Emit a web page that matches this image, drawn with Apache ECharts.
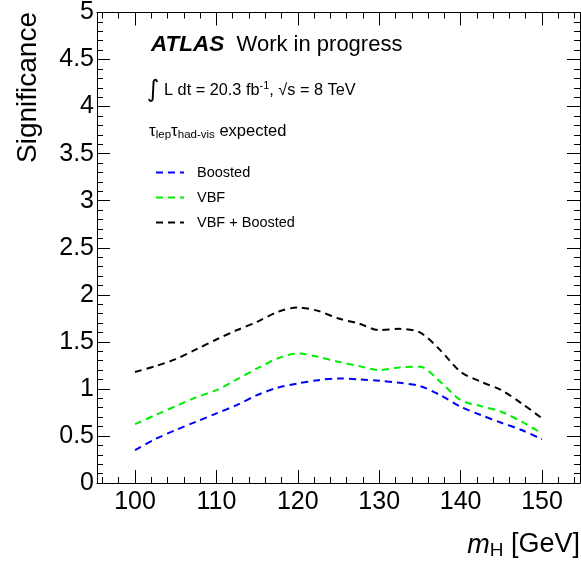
<!DOCTYPE html>
<html>
<head>
<meta charset="utf-8">
<script src="https://cdn.jsdelivr.net/npm/echarts@6/dist/echarts.min.js"></script>
<style>
html, body { margin: 0; padding: 0; background: #fff; }
#chart { width: 581px; height: 571px; }
</style>
</head>
<body>
<div id="chart"></div>
<script>
// mass points (GeV)
const massPoints = [100, 102.5, 105, 107.5, 110, 112.5, 115, 117.5, 120, 122.5, 125,
    127.5, 130, 132.5, 135, 137.5, 140, 142.5, 145, 147.5, 150];
// expected significance
const boosted = [0.35, 0.467, 0.563, 0.651, 0.74, 0.828, 0.934, 1.012, 1.058, 1.093, 1.111,
    1.1, 1.086, 1.065, 1.03, 0.934, 0.81, 0.722, 0.64, 0.563, 0.464];
const vbf = [0.626, 0.722, 0.817, 0.91, 0.987, 1.1, 1.217, 1.323, 1.377, 1.341, 1.288,
    1.242, 1.2, 1.228, 1.235, 1.076, 0.881, 0.817, 0.757, 0.651, 0.527];
const combined = [1.18, 1.242, 1.316, 1.419, 1.525, 1.624, 1.712, 1.818, 1.865, 1.829, 1.748,
    1.695, 1.624, 1.638, 1.6, 1.412, 1.182, 1.076, 0.987, 0.846, 0.687];

const seriesNames = ['Boosted', 'VBF', 'VBF + Boosted'];
const seriesColors = ['#0000ff', '#00ee00', '#000000'];

const xMajor = [100, 110, 120, 130, 140, 150];
const xMinor = [96, 98, 102, 104, 106, 108, 112, 114, 116, 118, 122, 124, 126, 128,
    132, 134, 136, 138, 142, 144, 146, 148, 152, 154];

const font = 'Liberation Sans, Arial, Helvetica, sans-serif';
const xMin = 95.33, xMax = 154.67;

function pairs(ys) {
    return massPoints.map(function (m, i) { return [m, ys[i]]; });
}

function xAxisOf(position, ticks, len, showLine, showLabel) {
    return {
        type: 'value', position: position, min: xMin, max: xMax,
        axisLine: { show: showLine, onZero: false, lineStyle: { color: '#000', width: 1 } },
        axisTick: { show: true, inside: true, length: len, customValues: ticks,
            lineStyle: { color: '#000', width: 1 } },
        axisLabel: { show: showLabel, customValues: ticks, margin: 7,
            color: '#000', fontFamily: font, fontSize: 25 },
        splitLine: { show: false }
    };
}

function yAxisOf(position, showLabel) {
    return {
        type: 'value', position: position, min: 0, max: 5, interval: 0.5,
        axisLine: { show: true, onZero: false, lineStyle: { color: '#000', width: 1 } },
        axisTick: { show: true, inside: true, length: 13, lineStyle: { color: '#000' } },
        minorTick: { show: true, splitNumber: 5, length: 6, lineStyle: { color: '#000' } },
        axisLabel: { show: showLabel, margin: 3, color: '#000', fontFamily: font, fontSize: 25 },
        splitLine: { show: false }
    };
}

const data = [boosted, vbf, combined];
const series = data.map(function (ys, i) {
    return {
        name: seriesNames[i], type: 'line', data: pairs(ys),
        xAxisIndex: 0, yAxisIndex: 0,
        smooth: 0.3, symbol: 'none',
        lineStyle: { color: seriesColors[i], width: 2, type: [7, 5] },
        itemStyle: { color: seriesColors[i] }
    };
});

const myChart = echarts.init(document.getElementById('chart'));
const option = {
    animation: false,
    backgroundColor: '#fff',
    grid: { left: 97, right: 1, top: 12, bottom: 88 },
    xAxis: [
        xAxisOf('bottom', xMajor, 13, true, true),
        xAxisOf('bottom', xMinor, 6, false, false),
        xAxisOf('top', xMajor, 13, true, false),
        xAxisOf('top', xMinor, 6, false, false)
    ],
    yAxis: [yAxisOf('left', true), yAxisOf('right', false)],
    legend: {
        orient: 'vertical', left: 150, top: 160,
        itemWidth: 28, itemHeight: 14, itemGap: 10,
        itemStyle: { opacity: 0, borderWidth: 0 },
        textStyle: { color: '#000', fontFamily: font, fontSize: 14.5, padding: [0, 0, 0, 8] },
        data: seriesNames
    },
    graphic: [
        {
            type: 'text', x: 28, y: 12, rotation: Math.PI / 2,
            style: { text: 'Significance', align: 'right', verticalAlign: 'middle',
                fill: '#000', font: '28px ' + font }
        },
        {
            type: 'text', x: 580, y: 545,
            style: {
                text: '{m|m}{s|H}{t| [GeV]}', align: 'right', verticalAlign: 'middle',
                rich: {
                    m: { fontFamily: font, fontSize: 27, fontStyle: 'italic', fill: '#000' },
                    s: { fontFamily: font, fontSize: 19, fill: '#000', padding: [12, 0, 0, 0] },
                    t: { fontFamily: font, fontSize: 27, fill: '#000' }
                }
            }
        },
        {
            type: 'text', x: 151, y: 45,
            style: {
                text: '{b|ATLAS}{n|  Work in progress}', verticalAlign: 'middle',
                rich: {
                    b: { fontFamily: font, fontSize: 22.5, fontWeight: 'bold', fontStyle: 'italic', fill: '#000' },
                    n: { fontFamily: font, fontSize: 22, fill: '#000' }
                }
            }
        },
        {
            type: 'text', x: 147, y: 91,
            style: {
                text: '{i|∫}{t| L dt = 20.3 fb}{p|-1}{t|, √s = 8 TeV}', verticalAlign: 'middle',
                rich: {
                    i: { fontFamily: 'DejaVu Sans', fontSize: 24, fill: '#000' },
                    t: { fontFamily: font, fontSize: 16.3, fill: '#000' },
                    p: { fontFamily: font, fontSize: 11, fill: '#000', padding: [0, 0, 10, 0] }
                }
            }
        },
        {
            type: 'text', x: 149, y: 131,
            style: {
                text: '{g|τ}{s|lep}{g|τ}{s|had-vis}{t| expected}', verticalAlign: 'middle',
                rich: {
                    g: { fontFamily: font, fontSize: 17, fill: '#000' },
                    s: { fontFamily: font, fontSize: 11.5, fill: '#000', padding: [8, 0, 0, 0] },
                    t: { fontFamily: font, fontSize: 16.5, fill: '#000' }
                }
            }
        }
    ],
    series: series
};
myChart.setOption(option);
</script>
</body>
</html>
